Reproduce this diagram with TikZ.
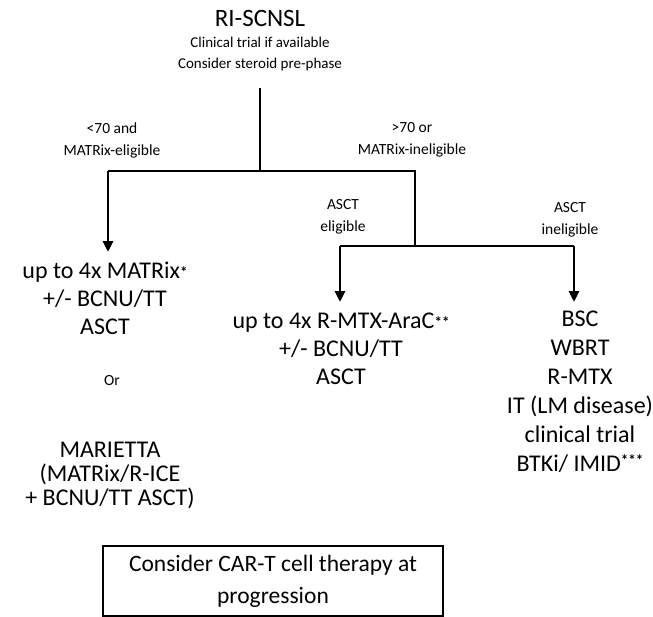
\documentclass[tikz,border=0pt]{standalone}
\usepackage{fontspec}
\setmainfont{Carlito}
\usetikzlibrary{arrows.meta}
\newcommand{\stars}[2][1pt]{{\fontsize{15}{15}\selectfont\bfseries\raisebox{#1}{#2}}}
\begin{document}
\begin{tikzpicture}[x=1pt,y=-1pt,
  conn/.style={line width=2.8pt},
  arr/.style={line width=2.8pt,-{Triangle[length=11pt,width=10pt]}},
  body/.style={align=center,font=\fontsize{24}{28}\selectfont,inner sep=0pt},
  tight/.style={align=center,font=\fontsize{24}{24}\selectfont,inner sep=0pt},
  rcol/.style={align=center,font=\fontsize{24}{29}\selectfont,inner sep=0pt},
  lbl/.style={align=center,font=\fontsize{15.5}{22}\selectfont,inner sep=0pt},
  note/.style={align=center,font=\fontsize{15}{21}\selectfont,inner sep=0pt},
  title/.style={align=center,font=\fontsize{25}{28}\selectfont,inner sep=0pt},
  carbox/.style={draw,line width=2pt,align=center,font=\fontsize{23.5}{32}\selectfont,minimum width=340pt,minimum height=70pt,inner sep=0pt},
]
\useasboundingbox (0,0) rectangle (653,616);
% top
\node[title] (top) at (260,18) {RI-SCNSL};
\node[note] (sub) at (260,54) {Clinical trial if available\\Consider steroid pre-phase};
% junctions
\coordinate (j0) at (260,88);
\coordinate (j1) at (260,171);
\coordinate (jl) at (108,171);
\coordinate (jr) at (415,171);
\coordinate (jr2) at (415,246);
\coordinate (jm) at (340,246);
\coordinate (jrr) at (574,246);
\coordinate (tipL) at (108,252);
\coordinate (tipM) at (340,302);
\coordinate (tipR) at (574,302);
% labels
\node[lbl] (l1) at (112,140) {<70 and\\MATRix-eligible};
\node[lbl] (l2) at (412,140) {>70 or\\MATRix-ineligible};
\node[lbl] (l3) at (343,217) {ASCT\\eligible};
\node[lbl] (l4) at (570,220) {ASCT\\ineligible};
% bodies
\node[body] (left) at (105,298) {up to 4x MATRix\stars{*}\\+/- BCNU/TT\\ASCT};
\node[lbl] (or) at (112,381) {Or};
\node[tight] (mari) at (110,475) {MARIETTA\\(MATRix/R-ICE\\+ BCNU/TT ASCT)};
\node[body] (mid) at (341,349) {up to 4x R-MTX-AraC\stars{**}\\+/- BCNU/TT\\ASCT};
\node[rcol] (right) at (580,392) {BSC\\WBRT\\R-MTX\\IT (LM disease)\\clinical trial\\BTKi/ IMID\stars[6pt]{***}};
\node[carbox] (car) at (273,581) {Consider CAR-T cell therapy at\\progression};
% connectors
\draw[conn] (j0) -- (j1);
\draw[conn] (jl) -- (jr) -- (jr2);
\draw[conn] (jm) -- (jrr);
\draw[arr] (jl) -- (tipL);
\draw[arr] (jm) -- (tipM);
\draw[arr] (jrr) -- (tipR);
\end{tikzpicture}
\end{document}
